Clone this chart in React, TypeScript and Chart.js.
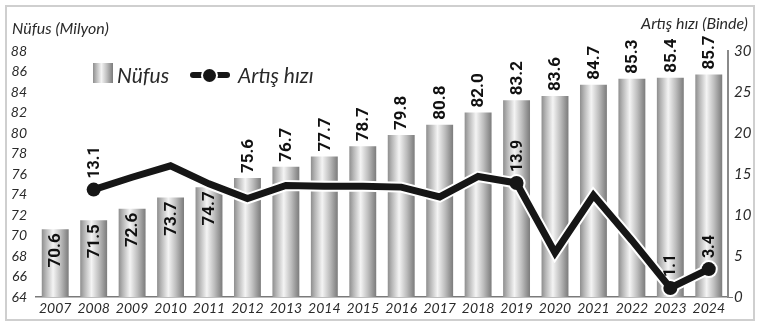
import React, { useEffect, useRef } from "react";
import { Chart, registerables } from "chart.js";

Chart.register(...registerables);

const years = ["2007","2008","2009","2010","2011","2012","2013","2014","2015","2016","2017","2018","2019","2020","2021","2022","2023","2024"];
const population = [70.6,71.5,72.6,73.7,74.7,75.6,76.7,77.7,78.7,79.8,80.8,82.0,83.2,83.6,84.7,85.3,85.4,85.7];
const growth = [null,13.1,14.6,16.0,13.8,12.0,13.6,13.5,13.5,13.4,12.2,14.7,13.9,5.4,12.4,6.9,1.1,3.4];
const labeledGrowth = [1,12,16,17];
const insideLabelCount = 5;
const leftTicks = { min: 64, max: 88, step: 2 };
const rightTicks = { min: 0, max: 30, step: 5 };

const LBL = '"Roboto", "Lato", sans-serif';
const ITAL = '"Lato", "Open Sans", sans-serif';

const labelsPlugin = {
  id: "valueLabels",
  afterDatasetsDraw(chart: any) {
    const ctx = chart.ctx;
    ctx.save();
    ctx.fillStyle = "#111";
    ctx.font = `bold 17px ${LBL}`;
    ctx.textBaseline = "middle";
    const barMeta = chart.getDatasetMeta(0);
    barMeta.data.forEach((el: any, i: number) => {
      const txt = population[i].toFixed(1);
      ctx.save();
      ctx.translate(el.x, el.y);
      ctx.rotate(-Math.PI / 2);
      if (i < insideLabelCount) {
        ctx.textAlign = "right";
        ctx.fillText(txt, -4, 1);
      } else {
        ctx.textAlign = "left";
        ctx.fillText(txt, 5, 1);
      }
      ctx.restore();
    });
    const lineMeta = chart.getDatasetMeta(2);
    ctx.font = `bold 16px ${LBL}`;
    labeledGrowth.forEach((i) => {
      const el: any = lineMeta.data[i];
      const v = growth[i];
      if (!el || v == null) return;
      ctx.save();
      ctx.translate(el.x, el.y);
      ctx.rotate(-Math.PI / 2);
      ctx.textAlign = "left";
      ctx.fillText((v as number).toFixed(1), 11, 1);
      ctx.restore();
    });
    ctx.restore();
  },
};

function barGradient(c: any) {
  const chart = c.chart;
  const area = chart.chartArea;
  if (!area || c.type !== "data") return "#bdbdbd";
  const x = chart.scales.x.getPixelForValue(c.dataIndex);
  const w = ((area.right - area.left) / years.length) * 0.7;
  const g = chart.ctx.createLinearGradient(x - w / 2, 0, x + w / 2, 0);
  g.addColorStop(0, "#8e8e8e");
  g.addColorStop(0.15, "#b5b5b5");
  g.addColorStop(0.42, "#f4f4f4");
  g.addColorStop(0.7, "#bdbdbd");
  g.addColorStop(0.92, "#8c8c8c");
  g.addColorStop(1, "#7c7c7c");
  return g;
}

const pointR = (r: number) => (c: any) => (labeledGrowth.includes(c.dataIndex) ? r : 0);

export default function App() {
  const ref = useRef<HTMLCanvasElement>(null);
  useEffect(() => {
    if (!ref.current) return;
    const chart = new Chart(ref.current, {
      type: "bar",
      data: {
        labels: years,
        datasets: [
          {
            type: "bar",
            label: "Nüfus",
            data: population,
            yAxisID: "y",
            backgroundColor: barGradient as any,
            borderWidth: 0,
            barPercentage: 0.7,
            categoryPercentage: 1,
            order: 3,
          },
          {
            type: "line",
            label: "outline",
            data: growth,
            yAxisID: "y1",
            borderColor: "#ffffff",
            borderWidth: 11,
            borderJoinStyle: "miter",
            pointRadius: pointR(9) as any,
            pointBackgroundColor: "#ffffff",
            pointBorderWidth: 0,
            tension: 0,
            spanGaps: false,
            order: 2,
          },
          {
            type: "line",
            label: "Artış hızı",
            data: growth,
            yAxisID: "y1",
            borderColor: "#161616",
            borderWidth: 7,
            borderJoinStyle: "miter",
            pointRadius: pointR(7) as any,
            pointBackgroundColor: "#161616",
            pointBorderWidth: 0,
            tension: 0,
            spanGaps: false,
            order: 1,
          },
        ],
      },
      options: {
        responsive: false,
        animation: false,
        events: [],
        layout: { padding: { top: 51, left: 0, right: 0, bottom: 0 } },
        plugins: { legend: { display: false }, tooltip: { enabled: false } },
        scales: {
          x: {
            grid: { display: false, drawTicks: false },
            border: { display: true, color: "#7a7a7a", width: 1.5 },
            ticks: {
              color: "#2a2a2a",
              padding: 3,
              font: { family: ITAL, size: 14, style: "italic" },
              maxRotation: 0,
              autoSkip: false,
            },
            afterFit: (s: any) => { s.height = 31; },
          },
          y: {
            position: "left",
            min: leftTicks.min,
            max: leftTicks.max,
            grid: { display: false, drawTicks: false },
            border: { display: false },
            ticks: {
              stepSize: leftTicks.step,
              autoSkip: false,
              color: "#2a2a2a",
              padding: 9,
              font: { family: ITAL, size: 14, style: "italic" },
            },
            afterFit: (s: any) => { s.width = 36; },
          },
          y1: {
            position: "right",
            min: rightTicks.min,
            max: rightTicks.max,
            grid: {
              display: true,
              drawOnChartArea: false,
              drawTicks: true,
              tickLength: 5,
              color: (c: any) => (c.tick && c.tick.value === 0 ? "#7a7a7a" : "rgba(0,0,0,0)"),
            },
            border: { display: true, color: "#8a8a8a", width: 2 },
            ticks: {
              stepSize: rightTicks.step,
              autoSkip: false,
              color: "#2a2a2a",
              padding: 1,
              font: { family: ITAL, size: 15, style: "italic" },
            },
            afterFit: (s: any) => { s.width = 32; },
          },
        },
      },
      plugins: [labelsPlugin],
    });
    return () => chart.destroy();
  }, []);

  const txt: React.CSSProperties = {
    position: "absolute",
    fontFamily: ITAL,
    fontStyle: "italic",
    color: "#2a2a2a",
    whiteSpace: "nowrap",
    lineHeight: 1,
  };

  return (
    <div style={{ position: "fixed", left: 0, top: 0, width: 760, height: 328, background: "#fff", overflow: "hidden" }}>
      <div style={{ position: "absolute", left: 5, top: 5, width: 746, height: 312, border: "2px solid #cfcfcf" }} />
      <canvas ref={ref} width={760} height={328} style={{ position: "absolute", left: 0, top: 0, width: 760, height: 328 }} />
      <div style={{ ...txt, left: 12, top: 20, fontSize: 16 }}>Nüfus (Milyon)</div>
      <div style={{ ...txt, right: 12, top: 15, fontSize: 16 }}>Artış hızı (Binde)</div>
      <div style={{ position: "absolute", left: 93, top: 63, width: 20, height: 20, background: "linear-gradient(90deg, #8e8e8e 0%, #b5b5b5 15%, #f4f4f4 42%, #bdbdbd 70%, #8c8c8c 92%, #7c7c7c 100%)" }} />
      <div style={{ ...txt, left: 117, top: 64, fontSize: 21 }}>Nüfus</div>
      <div style={{ position: "absolute", left: 190, top: 72, width: 40, height: 6, background: "#161616", borderRadius: 3 }} />
      <div style={{ position: "absolute", left: 203, top: 69, width: 13, height: 13, background: "#161616", borderRadius: "50%", boxShadow: "0 0 0 2px #fff" }} />
      <div style={{ ...txt, left: 238, top: 64, fontSize: 21 }}>Artış hızı</div>
    </div>
  );
}
